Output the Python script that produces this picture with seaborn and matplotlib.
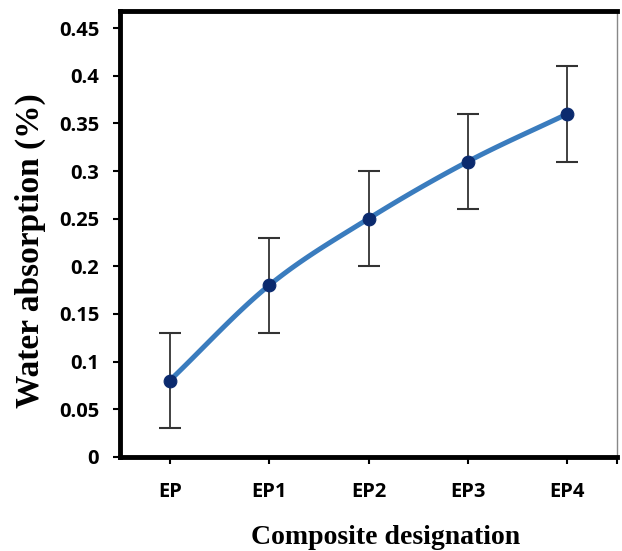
import numpy as np
import pandas as pd
import matplotlib
matplotlib.use("Agg")
import matplotlib.pyplot as plt
import seaborn as sns
from matplotlib.ticker import FuncFormatter, FixedLocator

categories = ["EP", "EP1", "EP2", "EP3", "EP4"]
absorption = [0.08, 0.18, 0.25, 0.31, 0.36]
err = [0.05, 0.05, 0.05, 0.05, 0.05]

sns.set_theme(style="ticks")
plt.rcParams['font.family'] = ['DejaVu Sans']

fig = plt.figure(figsize=(6.22, 5.51), dpi=100)
ax = fig.add_axes([0.193, 0.171, 0.799, 0.809])

xpos = np.arange(len(categories), dtype=float)
y = np.array(absorption)

# Catmull-Rom smoothing (Excel-like smoothed line)
def catmull(xp, yp, n=30):
    P = np.column_stack([xp, yp])
    P = np.vstack([P[0] - (P[1] - P[0]), P, P[-1] + (P[-1] - P[-2])])
    out = []
    for i in range(1, len(P) - 2):
        p0, p1, p2, p3 = P[i-1], P[i], P[i+1], P[i+2]
        t = np.linspace(0, 1, n, endpoint=(i == len(P) - 3))[:, None]
        pts = 0.5 * ((2*p1) + (-p0 + p2)*t + (2*p0 - 5*p1 + 4*p2 - p3)*t**2 + (-p0 + 3*p1 - 3*p2 + p3)*t**3)
        out.append(pts)
    out = np.vstack(out)
    return out[:, 0], out[:, 1]

sx, sy = catmull(xpos, y)
sns.lineplot(x=sx, y=sy, ax=ax, color="#3a7cbe", linewidth=3.6, sort=False, zorder=2)
ax.errorbar(xpos, y, yerr=err, fmt="none", ecolor="#333333", elinewidth=1.3,
            capsize=8, capthick=1.5, zorder=3)
sns.scatterplot(x=xpos, y=y, ax=ax, color="#0b2a6e", s=85, edgecolor="#0b2a6e", zorder=4)

ax.set_xlim(-0.5, 4.5)
ax.set_ylim(0, 0.468)
ax.set_xticks(xpos)
ax.set_xticklabels(categories)
ax.xaxis.set_minor_locator(FixedLocator([4.5]))
ax.set_yticks(np.arange(0, 0.451, 0.05))
ax.yaxis.set_major_formatter(FuncFormatter(lambda v, p: f"{round(v, 2):g}"))

for lab in ax.get_xticklabels() + ax.get_yticklabels():
    lab.set_fontweight("bold")
    lab.set_fontsize(14.5)
    lab.set_fontfamily("Open Sans")
    lab.set_color("black")

ax.tick_params(axis="both", which="both", direction="out", length=5, width=1.5, colors="black")
ax.tick_params(axis="x", pad=13)
ax.tick_params(axis="y", pad=10)

for side in ["left", "top", "bottom"]:
    ax.spines[side].set_linewidth(3.5)
    ax.spines[side].set_color("black")
ax.spines["right"].set_linewidth(1.0)
ax.spines["right"].set_color("#888888")

ax.set_xlabel("Composite designation", fontfamily="Liberation Serif", fontweight="bold",
              fontsize=20, color="black", va="center")
ax.set_ylabel("Water absorption (%)", fontfamily="Liberation Serif", fontweight="bold",
              fontsize=24, color="black", va="center")
ax.xaxis.set_label_coords(0.535, -0.18)
ax.yaxis.set_label_coords(-0.18, 0.462)

fig.savefig("out.png", dpi=100)
